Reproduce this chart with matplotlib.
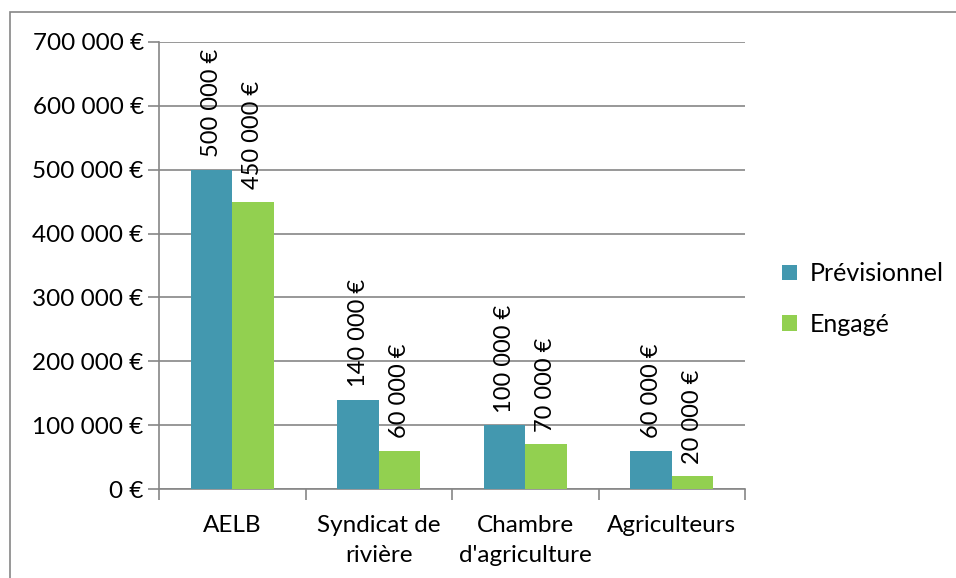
import matplotlib.pyplot as plt
import numpy as np
from matplotlib.patches import Rectangle
from matplotlib.ticker import FuncFormatter

categories = ["AELB", "Syndicat de\nrivière", "Chambre\nd'agriculture", "Agriculteurs"]
previsionnel = [500000, 140000, 100000, 60000]
engage = [450000, 60000, 70000, 20000]
series_names = ["Prévisionnel", "Engagé"]

plt.rcParams['font.family'] = ['Lato', 'DejaVu Sans']

blue = "#4398AF"
green = "#92D050"
grey = "#868686"

fig = plt.figure(figsize=(9.56, 5.78), dpi=100)
ax = fig.add_axes([159/956, 1-489/578, (745-159)/956, (489-42)/578])

# cadre du graphique
fig.patches.append(Rectangle((10/956, -0.01), 1.0, 1-12/578+0.01, transform=fig.transFigure,
                             fill=False, edgecolor=grey, linewidth=1.2))

x = np.arange(len(categories))
w = 0.283
b1 = ax.bar(x - w/2, previsionnel, w, color=blue, label=series_names[0], zorder=3)
b2 = ax.bar(x + w/2, engage, w, color=green, label=series_names[1], zorder=3)

def euro(v, pos=None):
    return f"{int(v):,}".replace(",", " ") + " €"

for bars, vals in [(b1, previsionnel), (b2, engage)]:
    for r, v in zip(bars, vals):
        ax.annotate(euro(v), (r.get_x() + r.get_width()/2, v), xytext=(0, 9),
                    textcoords="offset points", rotation=90, ha="center", va="bottom",
                    fontsize=17, zorder=4)

ax.set_xlim(-0.5, len(categories) - 0.5)
ax.set_ylim(0, 700000)
ax.set_yticks(np.arange(0, 700001, 100000))
ax.yaxis.set_major_formatter(FuncFormatter(euro))
ax.yaxis.grid(True, color=grey, linewidth=1.2, zorder=0)

ax.set_xticks(x)
ax.set_xticklabels(categories, fontsize=17.5, linespacing=1.5)
ax.set_xticks(np.arange(-0.5, len(categories)), minor=True)
ax.tick_params(axis="x", which="major", length=0, pad=19)
ax.tick_params(axis="x", which="minor", length=8, color=grey, width=1.2)
ax.tick_params(axis="y", length=8, color=grey, width=1.2, labelsize=17.5, pad=3)

for s in ["top", "right"]:
    ax.spines[s].set_visible(False)
for s in ["left", "bottom"]:
    ax.spines[s].set_color(grey)
    ax.spines[s].set_linewidth(1.2)

ax.legend(loc="center left", bbox_to_anchor=(1.025, 0.425), frameon=False, fontsize=18,
          handlelength=0.6, handleheight=0.6, handletextpad=0.5, labelspacing=1.1)

fig.savefig("out.png", dpi=100)
